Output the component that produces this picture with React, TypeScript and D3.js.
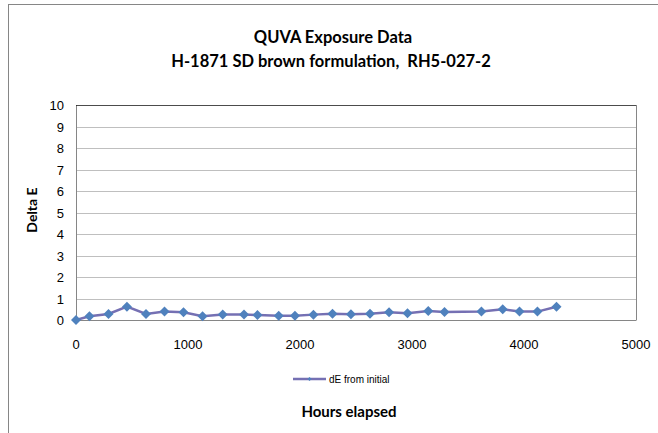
import React from "react";
import * as d3 from "d3";

const hours = [0, 120, 290, 455, 625, 790, 960, 1130, 1310, 1500, 1620, 1810, 1955, 2120, 2290, 2455, 2625, 2795, 2960, 3145, 3290, 3620, 3810, 3960, 4120, 4290];
const deltaE = [0, 0.17, 0.28, 0.62, 0.28, 0.39, 0.36, 0.18, 0.26, 0.26, 0.23, 0.2, 0.2, 0.25, 0.29, 0.27, 0.29, 0.36, 0.31, 0.42, 0.37, 0.4, 0.5, 0.4, 0.39, 0.62];
const xTicks = [0, 1000, 2000, 3000, 4000, 5000];
const yTicks = [0, 1, 2, 3, 4, 5, 6, 7, 8, 9, 10];
const titleLines = ["QUVA Exposure Data", "H-1871 SD brown formulation,  RH5-027-2"];
const seriesName = "dE from initial";

export default function App() {
  const W = 658, H = 433;
  const x = d3.scaleLinear().domain([0, 5000]).range([76, 636]);
  const y = d3.scaleLinear().domain([0, 10]).range([320, 105]);
  const pts = hours.map((h, i) => [x(h), y(deltaE[i])] as [number, number]);
  const line = d3.line()(pts) || "";
  const diamond = (cx: number, cy: number, r: number) =>
    `M${cx},${cy - r}L${cx + r},${cy}L${cx},${cy + r}L${cx - r},${cy}Z`;
  const font = "'Liberation Sans', Arial, sans-serif";
  const bold = "Lato, 'Open Sans', sans-serif";
  return (
    <svg width={W} height={H} style={{ position: "absolute", left: 0, top: 0, background: "#fff" }}>
      <rect x={8.5} y={4.5} width={700} height={500} fill="#fff" stroke="#868686" strokeWidth={1} />
      {titleLines.map((t, i) => (
        <text key={i} x={i === 0 ? 333 : 331} y={43 + i * 23.5} textAnchor="middle" fontFamily={bold} fontWeight="bold" fontSize={16.5} fill="#000" style={{ whiteSpace: "pre" }}>{t}</text>
      ))}
      {yTicks.map(t => (
        <line key={"g" + t} x1={76} x2={636} y1={Math.round(y(t)) + 0.5} y2={Math.round(y(t)) + 0.5} stroke={t === 0 ? "#868686" : "#bfbfbf"} />
      ))}
      <line x1={76.5} x2={76.5} y1={105} y2={320} stroke="#868686" />
      <line x1={636.5} x2={636.5} y1={105} y2={320.5} stroke="#868686" />
      <line x1={76} x2={636} y1={105.5} y2={105.5} stroke="#000" strokeOpacity={0.6} />
      {yTicks.map(t => (
        <text key={"yt" + t} x={64} y={y(t) + 5} textAnchor="end" fontFamily={font} fontSize={13} fill="#000">{t}</text>
      ))}
      {xTicks.map(t => (
        <text key={"xt" + t} x={x(t)} y={349} textAnchor="middle" fontFamily={font} fontSize={13} fill="#000">{t}</text>
      ))}
      <text transform="translate(37,210) rotate(-90)" textAnchor="middle" fontFamily={bold} fontWeight="bold" fontSize={14}>Delta E</text>
      <path d={line} fill="none" stroke="#7570B3" strokeWidth={2.5} />
      {pts.map((p, i) => (
        <path key={"m" + i} d={diamond(p[0], p[1], 5)} fill="#4F81BD" />
      ))}
      <line x1={293} x2={326} y1={379} y2={379} stroke="#7570B3" strokeWidth={2.5} />
      <path d={diamond(309.5, 379, 2)} fill="#4F81BD" />
      <text x={329} y={382.5} fontFamily={font} fontSize={10}>{seriesName}</text>
      <text x={349} y={417} textAnchor="middle" fontFamily={bold} fontWeight="bold" fontSize={15}>Hours elapsed</text>
    </svg>
  );
}
